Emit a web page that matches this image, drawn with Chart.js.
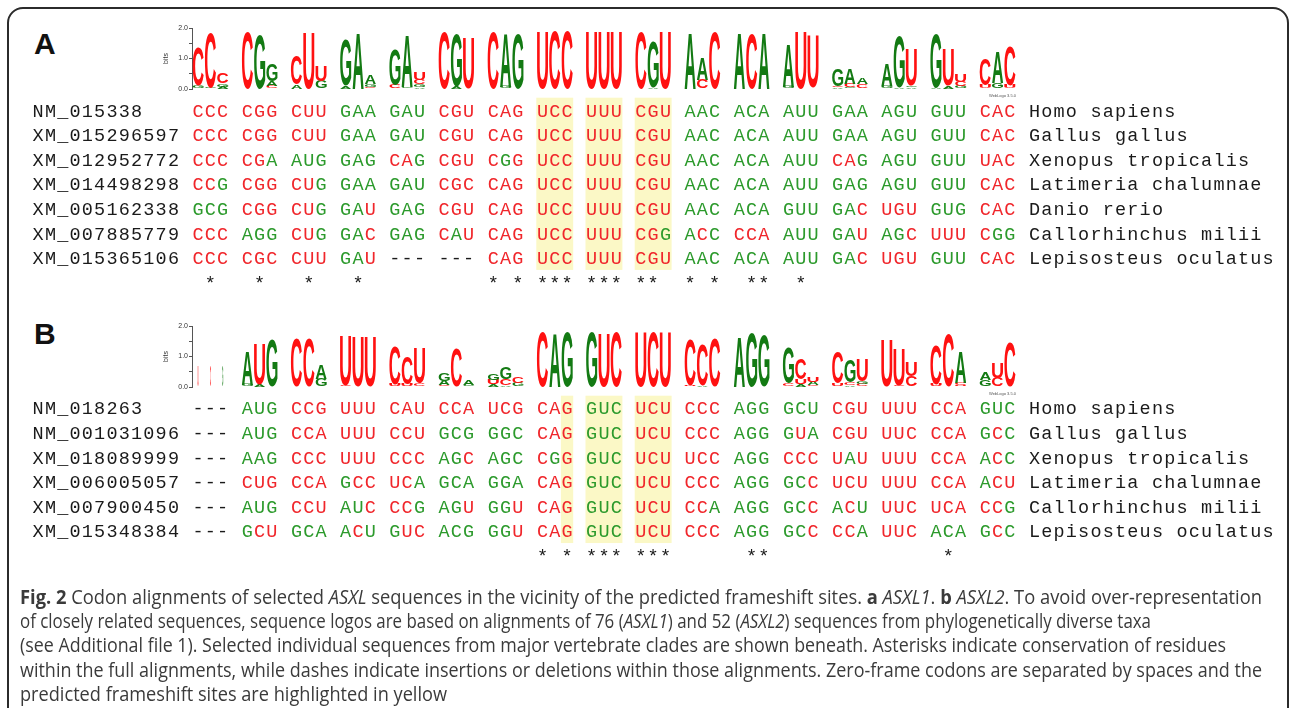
<!DOCTYPE html>
<html>
<head>
<meta charset="utf-8">
<script src="https://cdn.jsdelivr.net/npm/chart.js"></script>
<style>
  body { margin: 0; background: #fff; width: 1292px; height: 708px; overflow: hidden; position: relative; }
  .frame { position: absolute; left: 7px; top: 7px; width: 1282px; height: 800px; border: 2px solid #2b2b2b; border-radius: 16px; box-sizing: border-box; }
  .tag { position: absolute; font: bold 30px/30px "Liberation Sans", Arial, sans-serif; color: #111; }
  .box { position: absolute; }
  .cap { position: absolute; left: 20px; white-space: nowrap; transform-origin: 0 0; color: #3a3a3a;
         font: 19.5px/22px "Liberation Sans Narrow", "Open Sans", "Liberation Sans", sans-serif; }
</style>
</head>
<body>
<div class="frame"></div>
<div class="tag" style="left:34px;top:29px">A</div>
<div class="tag" style="left:34px;top:319px">B</div>

<div class="box" style="left:162px;top:18px;width:870px;height:85px"><canvas id="logoA"></canvas></div>
<div class="box" style="left:0;top:90px;width:1292px;height:215px"><canvas id="alignA"></canvas></div>
<div class="box" style="left:162px;top:316px;width:870px;height:85px"><canvas id="logoB"></canvas></div>
<div class="box" style="left:0;top:390px;width:1292px;height:190px"><canvas id="alignB"></canvas></div>

<div class="cap" data-w="1242" style="top:586px"><b>Fig. 2</b> Codon alignments of selected <i>ASXL</i> sequences in the vicinity of the predicted frameshift sites. <b>a</b> <i>ASXL1</i>. <b>b</b> <i>ASXL2</i>. To avoid over-representation</div>
<div class="cap" data-w="1131" style="top:610px">of closely related sequences, sequence logos are based on alignments of 76 (<i>ASXL1</i>) and 52 (<i>ASXL2</i>) sequences from phylogenetically diverse taxa</div>
<div class="cap" data-w="1206" style="top:634px">(see Additional file 1). Selected individual sequences from major vertebrate clades are shown beneath. Asterisks indicate conservation of residues</div>
<div class="cap" data-w="1242" style="top:659px">within the full alignments, while dashes indicate insertions or deletions within those alignments. Zero-frame codons are separated by spaces and the</div>
<div class="cap" data-w="427" style="top:683px">predicted frameshift sites are highlighted in yellow</div>

<script>
"use strict";

// ---- Panel A (ASXL1) ----
const idsA = ["NM_015338", "XM_015296597", "XM_012952772", "XM_014498298", "XM_005162338", "XM_007885779", "XM_015365106"];
const speciesA = ["Homo sapiens", "Gallus gallus", "Xenopus tropicalis", "Latimeria chalumnae", "Danio rerio", "Callorhinchus milii", "Lepisosteus oculatus"];
const seqsA = [
  "CCC CGG CUU GAA GAU CGU CAG UCC UUU CGU AAC ACA AUU GAA AGU GUU CAC",
  "CCC CGG CUU GAA GAU CGU CAG UCC UUU CGU AAC ACA AUU GAA AGU GUU CAC",
  "CCC CGA AUG GAG CAG CGU CGG UCC UUU CGU AAC ACA AUU CAG AGU GUU UAC",
  "CCG CGG CUG GAA GAU CGC CAG UCC UUU CGU AAC ACA AUU GAG AGU GUU CAC",
  "GCG CGG CUG GAU GAG CGU CAG UCC UUU CGU AAC ACA GUU GAC UGU GUG CAC",
  "CCC AGG CUG GAC GAG CAU CAG UCC UUU CGG ACC CCA AUU GAU AGC UUU CGG",
  "CCC CGC CUU GAU --- --- CAG UCC UUU CGU AAC ACA AUU GAC UGU GUU CAC"
];
const starsA = [1, 5, 9, 13, 24, 26, 28, 29, 30, 32, 33, 34, 36, 37, 40, 42, 45, 46, 49];
const highlightA = [[28, 30], [32, 34], [36, 38]];

// logo A: information (bits) per nucleotide, 17 codons x 3 positions
const logoA_A = [0,0,0.08, 0,0,0.15, 0.15,0,0, 0.1,1.85,0.3, 0,1.7,0.05, 0,0.08,0, 0,1.75,0, 0,0,0, 0,0,0,
                 0,0.06,0, 1.83,0.7,0, 1.83,0,1.83, 1.4,0,0, 0.05,0.5,0.2, 0.7,0.05,0.05, 0.05,0.1,0, 0,1.0,0];
const logoA_C = [1.25,1.8,0.35, 1.85,0,0.1, 0.95,0,0, 0,0,0.05, 0.12,0,0.15, 1.87,0,0, 1.87,0,0, 0,1.9,1.9, 0,0,0,
                 1.87,0,0, 0,0.3,1.87, 0,1.83,0, 0,0,0, 0.05,0.12,0.15, 0,0,0, 0,0,0.15, 0.85,0,1.3];
const logoA_G = [0.1,0.05,0.1, 0,1.8,0.55, 0,0,0.25, 1.5,0,0.1, 1.15,0.05,0.1, 0,1.72,0, 0,0.08,1.83, 0,0,0, 0,0,0,
                 0,1.5,0, 0,0,0, 0,0,0, 0.08,0,0.03, 0.55,0.05,0, 0.1,1.7,0.05, 1.75,0,0.08, 0,0.2,0];
const logoA_U = [0,0,0, 0,0,0, 0,1.85,0.5, 0,0,0, 0,0,0.25, 0,0,1.67, 0,0,0, 1.9,0,0, 1.9,1.9,1.9,
                 0,0,1.87, 0,0,0, 0,0,0, 0,1.9,1.72, 0,0,0, 0,0,1.2, 0,1.2,0.25, 0.12,0,0.12];

// ---- Panel B (ASXL2) ----
const idsB = ["NM_018263", "NM_001031096", "XM_018089999", "XM_006005057", "XM_007900450", "XM_015348384"];
const speciesB = ["Homo sapiens", "Gallus gallus", "Xenopus tropicalis", "Latimeria chalumnae", "Callorhinchus milii", "Lepisosteus oculatus"];
const seqsB = [
  "--- AUG CCG UUU CAU CCA UCG CAG GUC UCU CCC AGG GCU CGU UUU CCA GUC",
  "--- AUG CCA UUU CCU GCG GGC CAG GUC UCU CCC AGG GUA CGU UUC CCA GCC",
  "--- AAG CCC UUU CCC AGC AGC CGG GUC UCU UCC AGG CCC UAU UUU CCA ACC",
  "--- CUG CCA GCC UCA GCA GGA CAG GUC UCU CCC AGG GCC UCU UUU CCA ACU",
  "--- AUG CCU AUC CCG AGU GGU CAG GUC UCU CCA AGG GCC ACU UUC UCA CCG",
  "--- GCU GCA ACU GUC ACG GGU CAG GUC UCU CCC AGG GCC CCA UUC ACA GCC"
];
const starsB = [28, 30, 32, 33, 34, 36, 37, 38, 45, 46, 61];
const highlightB = [[30, 30], [32, 34], [36, 38]];

const logoB_A = [0,0,0, 1.1,0.08,0, 0,0,0.45, 0,0,0, 0,0,0, 0.15,0,0.15, 0.08,0.05,0, 0,1.76,0, 0,0,0,
                 0,0,0, 0,0.05,0, 1.65,0,0, 0,0.1,0.12, 0,0.05,0, 0,0,0, 0,0,1.0, 0.27,0,0];
const logoB_C = [0,0.7,0, 0,0,0, 1.62,1.62,0, 0.05,0,0, 1.25,0.9,0.1, 0.05,1.25,0, 0,0.2,0.2, 1.81,0,0, 0,0,1.81,
                 0,1.81,0, 1.5,1.35,1.6, 0,0,0, 0.1,0.7,0.05, 1.05,0.1,0.1, 0,0.05,0.35, 1.3,1.75,0.08, 0,0.3,1.5];
const logoB_G = [0,0,0.7, 0.08,0,1.55, 0,0,0.25, 0,0,0, 0,0,0, 0.25,0,0.05, 0.2,0.4,0.12, 0,0,1.81, 1.81,0,0,
                 0,0,0, 0,0,0, 0,1.79,1.7, 1.15,0,0, 0,0.75,0.1, 0,0,0, 0,0,0, 0.22,0,0];
const logoB_U = [0.7,0,0, 0,1.3,0, 0,0,0, 1.6,1.62,1.65, 0.08,0.1,1.15, 0,0,0, 0.15,0,0, 0,0,0, 0,1.76,0,
                 1.81,0,1.81, 0.05,0,0, 0,0,0, 0,0.15,0.15, 0.1,0,0.7, 1.55,1.2,0.45, 0.08,0,0.05, 0,0.5,0];
// fraction of non-gap residues (stack width)
const logoB_occ = [0.08,0.08,0.08, 1,1,1, 1,1,1, 1,1,1, 1,1,1, 1,1,1, 1,1,1, 1,1,1, 1,1,1,
                   1,1,1, 1,1,1, 1,1,1, 1,1,1, 1,1,1, 1,1,1, 1,1,1, 1,1,1];

// colours
const logoColor = { A: "#137a13", G: "#137a13", C: "#ff1111", U: "#ff1111" };
const textColor = { A: "#2c9a2c", G: "#2c9a2c", C: "#f0262b", U: "#f0262b", "-": "#1a1a1a" };

const NCOLS = 67; // 17 codons + separating gaps
const SEQ_START = 13; // char column where codons start in the alignment text
const CHAR_W = 12.3;
const BASES = ["A", "C", "G", "U"];

function drawGlyph(ctx, ch, color, x, y, w, h) {
  if (h < 0.25 || w < 0.2) return;
  ctx.save();
  ctx.font = "bold 100px 'Liberation Sans', Arial, sans-serif";
  const m = ctx.measureText(ch);
  const gw = m.actualBoundingBoxLeft + m.actualBoundingBoxRight;
  const gh = m.actualBoundingBoxAscent + m.actualBoundingBoxDescent;
  ctx.translate(x, y);
  ctx.scale(w / gw, h / gh);
  ctx.fillStyle = color;
  ctx.textBaseline = "alphabetic";
  ctx.fillText(ch, m.actualBoundingBoxLeft, m.actualBoundingBoxAscent);
  ctx.restore();
}

const glyphPlugin = {
  id: "glyphs",
  afterDatasetsDraw(chart) {
    const ctx = chart.ctx;
    chart.data.datasets.forEach((ds, i) => {
      chart.getDatasetMeta(i).data.forEach((el, j) => {
        const d = ds.data[j];
        const p = el.getProps(["x", "y", "base", "width"], true);
        const w = p.width * d.occ;
        const top = Math.min(p.y, p.base);
        drawGlyph(ctx, d.letter, logoColor[d.letter], p.x - w / 2, top, w, Math.abs(p.base - p.y));
      });
    });
    // WebLogo credit
    const area = chart.chartArea;
    ctx.save();
    ctx.font = "4px 'Liberation Sans', Arial, sans-serif";
    ctx.fillStyle = "#555";
    ctx.textAlign = "right";
    ctx.fillText("WebLogo 3.5.0", area.right, area.bottom + 8);
    ctx.restore();
  }
};

function makeLogo(id, heights, occ) {
  const labels = [];
  for (let c = 0; c < NCOLS; c++) labels.push(String(c));
  const ranks = [[], [], [], []];
  const n = heights.A.length;
  for (let i = 0; i < n; i++) {
    const col = Math.floor(i / 3) * 4 + (i % 3);
    const stack = BASES
      .map((b) => ({ b, h: heights[b][i] }))
      .filter((s) => s.h > 0)
      .sort((a, b) => a.h - b.h);
    let base = 0;
    stack.forEach((s, r) => {
      ranks[r].push({ x: labels[col], y: [base, base + s.h], letter: s.b, occ: occ ? occ[i] : 1 });
      base += s.h;
    });
  }

  return new Chart(document.getElementById(id), {
    type: "bar",
    data: {
      labels,
      datasets: ranks.map((r) => ({
        data: r,
        backgroundColor: "rgba(0,0,0,0)",
        borderWidth: 0,
        grouped: false,
        barPercentage: 0.9,
        categoryPercentage: 1,
      })),
    },
    options: {
      responsive: true,
      maintainAspectRatio: false,
      animation: false,
      events: [],
      layout: { padding: { top: 10, bottom: 14, left: 0, right: 16 } },
      plugins: { legend: { display: false }, tooltip: { enabled: false } },
      scales: {
        x: { display: false },
        y: {
          min: 0,
          max: 2,
          afterFit: (axis) => { axis.width = 30; },
          border: { display: true, color: "#555", width: 1 },
          grid: { drawOnChartArea: false, tickLength: 3, color: "#555" },
          title: { display: true, text: "bits", font: { size: 7, family: "Liberation Sans" }, color: "#333", padding: 0 },
          ticks: {
            stepSize: 0.5,
            autoSkip: false,
            padding: 1,
            color: "#333",
            font: { size: 7, family: "Liberation Sans" },
            callback: (v) => (Number.isInteger(v) ? v.toFixed(1) : ""),
          },
        },
      },
    },
    plugins: [glyphPlugin],
  });
}

// consensus (tallest letter of each logo stack), laid out like the codon strings
function consensus(heights) {
  let s = "";
  for (let i = 0; i < heights.A.length; i++) {
    let best = BASES[0];
    BASES.forEach((b) => { if (heights[b][i] > heights[best][i]) best = b; });
    s += best;
    if (i % 3 === 2) s += " ";
  }
  return s;
}

// codon drawn in the colour of its first base; in the other rows a base that
// differs from the logo consensus takes its own colour
function letterColor(seqs, cons, r, i) {
  const ch = seqs[r][i];
  if (ch === "-") return textColor["-"];
  if (r > 0 && cons[i] !== ch) return textColor[ch];
  return textColor[seqs[r][i - (i % 4)]] || textColor[ch];
}

function makeAlignment(id, ids, seqs, species, stars, highlight, cons, padTop, padBottom) {
  const nRows = seqs.length;
  const totalChars = SEQ_START + NCOLS + 1 + 20;
  const alignPlugin = {
    id: "alignText",
    beforeDatasetsDraw(chart) {
      const { x, y } = chart.scales;
      const ctx = chart.ctx;
      ctx.save();
      ctx.fillStyle = "#fbf8c6";
      highlight.forEach(([c0, c1]) => {
        const l = x.getPixelForValue(SEQ_START + c0);
        const r = x.getPixelForValue(SEQ_START + c1 + 1);
        const t = y.getPixelForValue(-0.5);
        const b = y.getPixelForValue(nRows - 0.5);
        ctx.fillRect(l, t, r - l, b - t);
      });
      ctx.restore();
    },
    afterDatasetsDraw(chart) {
      const { x, y } = chart.scales;
      const ctx = chart.ctx;
      ctx.save();
      ctx.font = "18.5px 'Liberation Mono', 'DejaVu Sans Mono', monospace";
      ctx.textAlign = "center";
      ctx.textBaseline = "alphabetic";
      const put = (ch, col, row, color) => {
        ctx.fillStyle = color;
        ctx.fillText(ch, x.getPixelForValue(col + 0.5), y.getPixelForValue(row) + 6.5);
      };
      for (let r = 0; r < nRows; r++) {
        [...ids[r]].forEach((ch, i) => put(ch, i, r, "#1a1a1a"));
        [...seqs[r]].forEach((ch, i) => {
          if (ch !== " ") put(ch, SEQ_START + i, r, letterColor(seqs, cons, r, i));
        });
        [...species[r]].forEach((ch, i) => put(ch, SEQ_START + NCOLS + 1 + i, r, "#1a1a1a"));
      }
      stars.forEach((c) => put("*", SEQ_START + c, nRows, "#1a1a1a"));
      ctx.restore();
    },
  };

  return new Chart(document.getElementById(id), {
    type: "scatter",
    data: { datasets: [] },
    options: {
      responsive: true,
      maintainAspectRatio: false,
      animation: false,
      events: [],
      layout: { padding: { left: 32, right: 1292 - 32 - totalChars * CHAR_W, top: padTop, bottom: padBottom } },
      plugins: { legend: { display: false }, tooltip: { enabled: false } },
      scales: {
        x: { type: "linear", display: false, min: 0, max: totalChars },
        y: { type: "linear", display: false, min: -0.5, max: nRows + 0.5, reverse: true },
      },
    },
    plugins: [alignPlugin],
  });
}

const logoA = { A: logoA_A, C: logoA_C, G: logoA_G, U: logoA_U };
const logoB = { A: logoB_A, C: logoB_C, G: logoB_G, U: logoB_U };

makeLogo("logoA", logoA);
makeLogo("logoB", logoB, logoB_occ);
makeAlignment("alignA", idsA, seqsA, speciesA, starsA, highlightA, consensus(logoA), 7.7, 10.5);
makeAlignment("alignB", idsB, seqsB, speciesB, starsB, highlightB, consensus(logoB), 5.7, 12.4);

// fit caption lines to their measured widths
document.querySelectorAll(".cap").forEach((el) => {
  const w = el.getBoundingClientRect().width;
  el.style.transform = "scaleX(" + (Number(el.dataset.w) / w) + ")";
});
</script>
</body>
</html>
